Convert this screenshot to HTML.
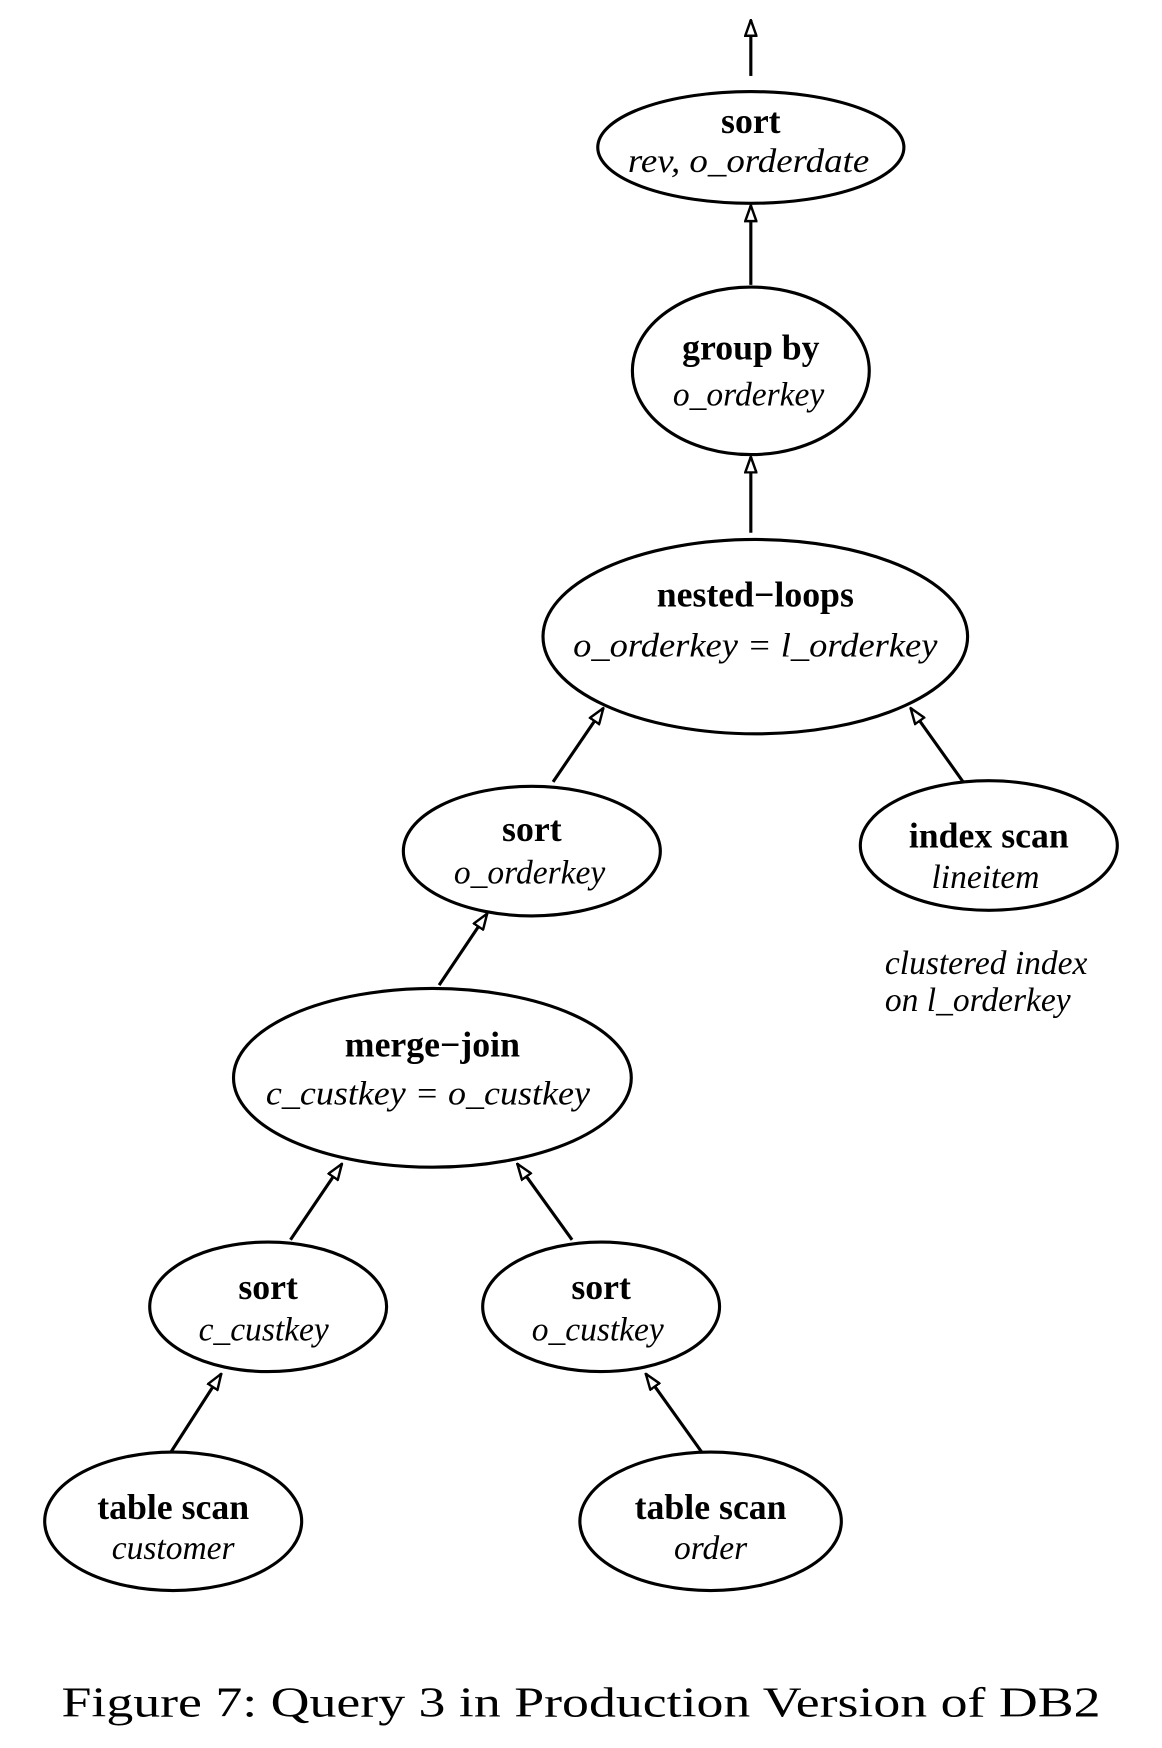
<!DOCTYPE html>
<html><head><meta charset="utf-8"><style>
html,body{margin:0;padding:0;background:#fff}
svg{display:block}
.b{font-family:"Liberation Serif",serif;font-weight:bold;font-size:32px;text-anchor:middle}
.i{font-family:"Liberation Serif",serif;font-style:italic;font-size:30px;text-anchor:middle}
ellipse{fill:none;stroke:#000;stroke-width:2.8}
line{stroke:#000;stroke-width:2.8}
</style></head><body>
<svg width="1162" height="1748" viewBox="0 0 1040 1565" preserveAspectRatio="none" xmlns="http://www.w3.org/2000/svg">
<defs>
<marker id="m" viewBox="0 0 16 12" refX="15" refY="6" markerWidth="16" markerHeight="12" markerUnits="userSpaceOnUse" orient="auto">
<path d="M15,6 L1,1 L1,11 Z" fill="#fff" stroke="#000" stroke-width="2.2"/></marker></defs>
<line x1="672" y1="68" x2="672" y2="18" marker-end="url(#m)"/>
<line x1="672" y1="255" x2="672" y2="184" marker-end="url(#m)"/>
<line x1="672" y1="477" x2="672" y2="409" marker-end="url(#m)"/>
<line x1="495" y1="700" x2="540" y2="634" marker-end="url(#m)"/>
<line x1="862" y1="700" x2="815" y2="634" marker-end="url(#m)"/>
<line x1="393" y1="882" x2="436" y2="818" marker-end="url(#m)"/>
<line x1="260" y1="1110" x2="306" y2="1042" marker-end="url(#m)"/>
<line x1="512" y1="1110" x2="463" y2="1042" marker-end="url(#m)"/>
<line x1="153" y1="1300" x2="198" y2="1230" marker-end="url(#m)"/>
<line x1="628" y1="1300" x2="578" y2="1230" marker-end="url(#m)"/>
<ellipse cx="672" cy="132" rx="137" ry="50"/>
<text class="b" x="672" y="119">sort</text><text class="i" x="670" y="154" textLength="216" lengthAdjust="spacingAndGlyphs">rev, o_orderdate</text>
<ellipse cx="672" cy="332" rx="106" ry="75"/>
<text class="b" x="672" y="322">group by</text><text class="i" x="670" y="363">o_orderkey</text>
<ellipse cx="676" cy="570" rx="190" ry="87"/>
<text class="b" x="676" y="543">nested−loops</text><text class="i" x="676" y="588" textLength="326" lengthAdjust="spacingAndGlyphs">o_orderkey = l_orderkey</text>
<ellipse cx="476" cy="762" rx="115" ry="58"/>
<text class="b" x="476" y="753">sort</text><text class="i" x="474" y="791">o_orderkey</text>
<ellipse cx="885" cy="757" rx="115" ry="58"/>
<text class="b" x="885" y="759">index scan</text><text class="i" x="882" y="795">lineitem</text>
<text class="i" x="792" y="872" style="text-anchor:start">clustered index</text>
<text class="i" x="792" y="905" style="text-anchor:start">on l_orderkey</text>
<ellipse cx="387" cy="965" rx="178" ry="80"/>
<text class="b" x="387" y="946">merge−join</text><text class="i" x="383" y="989" textLength="290" lengthAdjust="spacingAndGlyphs">c_custkey = o_custkey</text>
<ellipse cx="240" cy="1170" rx="106" ry="58"/>
<text class="b" x="240" y="1163">sort</text><text class="i" x="236" y="1200">c_custkey</text>
<ellipse cx="538" cy="1170" rx="106" ry="58"/>
<text class="b" x="538" y="1163">sort</text><text class="i" x="535" y="1200">o_custkey</text>
<ellipse cx="155" cy="1362" rx="115" ry="62"/>
<text class="b" x="155" y="1360">table scan</text><text class="i" x="155" y="1396">customer</text>
<ellipse cx="636" cy="1362" rx="117" ry="62"/>
<text class="b" x="636" y="1360">table scan</text><text class="i" x="636" y="1396">order</text>
<text x="55" y="1537" textLength="930" lengthAdjust="spacingAndGlyphs" style="font-family:'Liberation Serif',serif;font-size:38px">Figure 7: Query 3 in Production Version of DB2</text>
</svg>
</body></html>
